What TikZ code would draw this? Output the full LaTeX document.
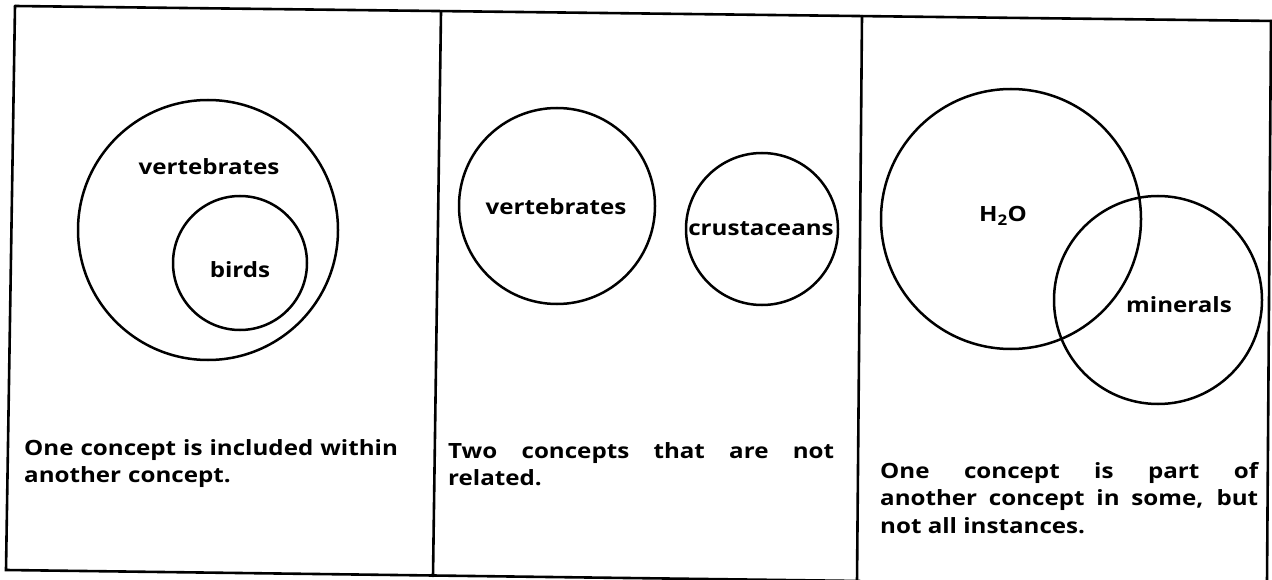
\documentclass[tikz,border=0pt]{standalone}
\usepackage{fontspec}
\setmainfont{Open Sans}[FakeStretch=1.15]
\begin{document}
\begin{tikzpicture}[x=1pt,y=-1pt,
  frame/.style={line width=2.6pt, line cap=round},
  ring/.style={draw, circle, inner sep=0pt, line width=2.5pt},
  lab/.style={font=\fontsize{21}{25}\selectfont\bfseries, inner sep=0pt, anchor=base},
  caption/.style={font=\fontsize{21}{27.5}\selectfont\bfseries, inner sep=0pt, anchor=north west}]
\useasboundingbox (0,0) rectangle (1272,580);
\clip (0,0) rectangle (1272,580);
% frame corners
\coordinate (tl) at (15,6);
\coordinate (tr) at (1276,21);
\coordinate (bl) at (6,570);
\coordinate (be) at (860,581);
\coordinate (d1t) at (441,12);
\coordinate (d1b) at (433,576);
\coordinate (d2t) at (862,16);
\coordinate (d2b) at (857,582);
\coordinate (rt) at (1271,21);
\coordinate (rb) at (1267,582);
\draw[frame] (tl) -- (tr);
\draw[frame] (tl) -- (bl) -- (be);
\draw[frame] (d1t) -- (d1b);
\draw[frame] (d2t) -- (d2b);
\draw[frame] (rt) -- (rb);
% panel 1
\node[ring, minimum size=260pt] (vert1) at (208,230) {};
\node[ring, minimum size=134pt] (birds) at (240,263) {};
\node[lab] (lv1) at (209,175) {vertebrates};
\node[lab] (lb) at (240,277) {birds};
% panel 2
\node[ring, minimum size=196pt] (vert2) at (557,206) {};
\node[ring, minimum size=152pt] (crus) at (762,229) {};
\node[lab] (lv2) at (556,215) {vertebrates};
\node[lab] (lc) at (761,236) {crustaceans};
% panel 3
\node[ring, minimum size=260pt] (water) at (1011,219) {};
\node[ring, minimum size=208pt] (min) at (1158,300) {};
\node[lab] (lw) at (1003,222) {H\textsubscript{2}O};
\node[lab] (lm) at (1179,312) {minerals};
% captions
\node[caption, text width=400pt, align=left] (c1) at (24,439)
  {One concept is included within\\another concept.};
\node[caption, text width=386pt, align=justify] (c2) at (448,442)
  {Two concepts that are not\linebreak related.};
\node[caption, text width=378pt, align=justify] (c3) at (880,462)
  {One concept is part of\linebreak another concept in some, but\linebreak not all instances.};
\end{tikzpicture}
\end{document}
